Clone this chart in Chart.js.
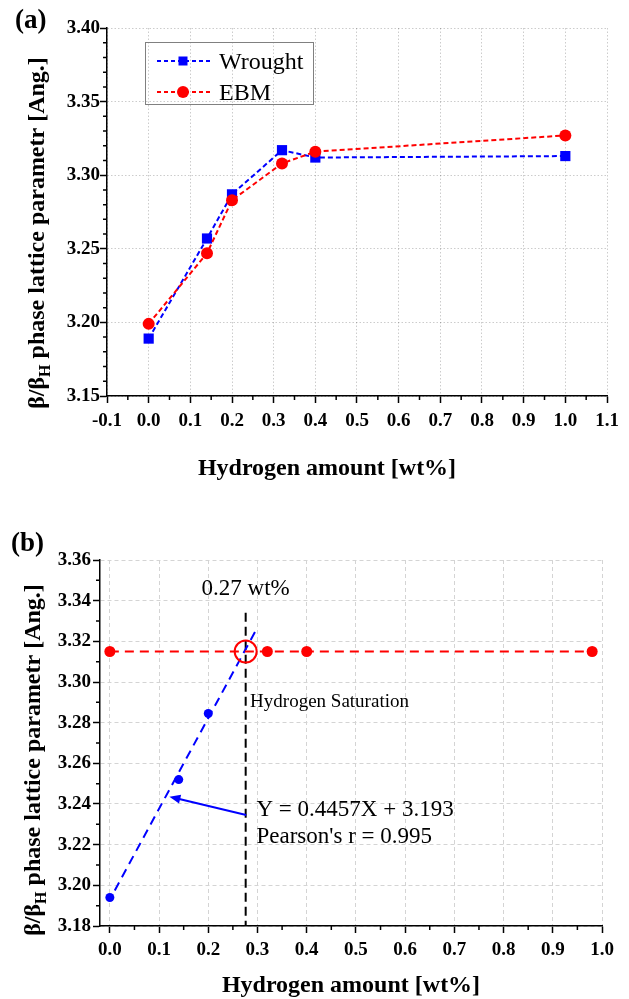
<!DOCTYPE html>
<html>
<head>
<meta charset="utf-8">
<script src="https://cdn.jsdelivr.net/npm/chart.js@4.4.1/dist/chart.umd.min.js"></script>
<style>
  html, body { margin: 0; padding: 0; background: #fff; }
  #wrap { position: relative; width: 629px; height: 999px; }
  canvas { position: absolute; left: 0; }
  #chartA { top: 0; }
  #chartB { top: 500px; }
</style>
</head>
<body>
<div id="wrap">
  <canvas id="chartA" width="629" height="500"></canvas>
  <canvas id="chartB" width="629" height="499"></canvas>
</div>
<script>
// ---- (a) lattice parameter vs hydrogen amount ----
const H_A = [0, 0.14, 0.2, 0.32, 0.4, 1.0];
const WROUGHT = [3.189, 3.257, 3.287, 3.317, 3.312, 3.313];
const EBM = [3.199, 3.247, 3.283, 3.308, 3.316, 3.327];
const X_TICKS_A = [-0.1, 0, 0.1, 0.2, 0.3, 0.4, 0.5, 0.6, 0.7, 0.8, 0.9, 1.0, 1.1];
const Y_TICKS_A = [3.15, 3.20, 3.25, 3.30, 3.35, 3.40];

// ---- (b) linear fit + saturation level ----
const H_FIT = [0, 0.14, 0.2];
const LATTICE_FIT = [3.194, 3.252, 3.2845];
const FIT_LINE_X = [0.01, 0.298];
const FIT_LINE_Y = [3.1975, 3.326];
const H_SAT = [0, 0.32, 0.4, 0.98];
const LATTICE_SAT = [3.315, 3.315, 3.315, 3.315];
const SAT_X = [0.276];
const SAT_Y = [3.315];
const SAT_MARK_X = [0.276, 0.276];
const SAT_MARK_Y = [3.334, 3.18];
const ARROW_TAIL = [0.277, 3.2346];
const ARROW_HEAD = [0.121, 3.2436];
const X_TICKS_B = [0, 0.1, 0.2, 0.3, 0.4, 0.5, 0.6, 0.7, 0.8, 0.9, 1.0];
const Y_TICKS_B = [3.18, 3.20, 3.22, 3.24, 3.26, 3.28, 3.30, 3.32, 3.34, 3.36];

const X_TITLE = 'Hydrogen amount [wt%]';
const Y_TITLE = ['β/β', 'H', ' phase lattice parametr [Ang.]'];

const SERIF = '"Liberation Serif", "Times New Roman", serif';
const BLUE = '#0000ff';
const RED = '#ff0000';

const pts = (xs, ys) => xs.map((x, i) => ({ x: x, y: ys[i] }));

function linearAxis(o) {
  return {
    type: 'linear',
    min: o.min,
    max: o.max,
    afterBuildTicks: (s) => { s.ticks = o.ticks.map((v) => ({ value: v })); },
    afterFit: (s) => {
      if (o.width) s.width = o.width;
      if (o.height) s.height = o.height;
    },
    ticks: {
      autoSkip: false,
      maxRotation: 0,
      padding: o.pad,
      color: '#000',
      font: { family: SERIF, size: 19, weight: 'bold' },
      callback: (v) => Number(v).toFixed(o.digits),
    },
    grid: { color: o.gridColor, lineWidth: 1, tickLength: 7, tickWidth: 1.5, tickColor: '#000', tickBorderDash: [] },
    border: { display: true, color: '#000', width: 1.5, dash: o.gridDash },
  };
}

// short minor ticks between the labelled ones
const minorTicks = {
  id: 'minorTicks',
  afterDraw(chart, args, opts) {
    const ctx = chart.ctx;
    ctx.save();
    ctx.strokeStyle = '#000';
    ctx.lineWidth = 1.5;
    ['x', 'y'].forEach((id) => {
      const s = chart.scales[id];
      const n = opts[id] || 0;
      const t = s.ticks.map((k) => k.value);
      ctx.beginPath();
      for (let i = 0; i < t.length - 1; i++) {
        for (let k = 1; k <= n; k++) {
          const p = s.getPixelForValue(t[i] + (t[i + 1] - t[i]) * k / (n + 1));
          if (id === 'x') { ctx.moveTo(p, s.top); ctx.lineTo(p, s.top + 4); }
          else { ctx.moveTo(s.right, p); ctx.lineTo(s.right - 4, p); }
        }
      }
      ctx.stroke();
    });
    ctx.restore();
  },
};

// panel letter, axis titles, legend box and notes
const decor = {
  id: 'decor',
  afterDraw(chart, args, o) {
    const ctx = chart.ctx;
    ctx.save();
    ctx.fillStyle = '#000';
    ctx.textBaseline = 'alphabetic';

    ctx.font = 'bold 27px ' + SERIF;
    ctx.textAlign = 'left';
    ctx.fillText(o.letter.text, o.letter.x, o.letter.y);

    ctx.font = 'bold 24px ' + SERIF;
    ctx.textAlign = 'center';
    ctx.fillText(X_TITLE, o.xTitle.x, o.xTitle.y);

    // rotated y title with subscript H
    ctx.save();
    ctx.translate(o.yTitle.x, o.yTitle.y);
    ctx.rotate(-Math.PI / 2);
    ctx.textAlign = 'left';
    const big = 'bold ' + o.yTitle.size + 'px ' + SERIF;
    const fonts = [big, 'bold 16px ' + SERIF, big];
    const shift = [0, 6, 0];
    let total = 0;
    const widths = Y_TITLE.map((s, i) => { ctx.font = fonts[i]; const w = ctx.measureText(s).width; total += w; return w; });
    let cx = -total / 2;
    Y_TITLE.forEach((s, i) => { ctx.font = fonts[i]; ctx.fillText(s, cx, shift[i]); cx += widths[i]; });
    ctx.restore();

    if (o.legend) {
      const L = o.legend;
      ctx.strokeStyle = '#808080';
      ctx.lineWidth = 1;
      ctx.strokeRect(L.x + 0.5, L.y + 0.5, L.w, L.h);
      L.items.forEach((it, i) => {
        const y = L.y + L.row0 + i * L.rowGap;
        ctx.strokeStyle = it.color;
        ctx.lineWidth = 2;
        ctx.setLineDash([4, 3]);
        ctx.beginPath();
        ctx.moveTo(L.x + 12, y);
        ctx.lineTo(L.x + 65, y);
        ctx.stroke();
        ctx.setLineDash([]);
        ctx.fillStyle = it.color;
        if (it.square) ctx.fillRect(L.x + 38 - 4.5, y - 4.5, 9, 9);
        else { ctx.beginPath(); ctx.arc(L.x + 38, y, 6, 0, Math.PI * 2); ctx.fill(); }
        ctx.fillStyle = '#000';
        ctx.font = '24px ' + SERIF;
        ctx.textAlign = 'left';
        ctx.fillText(it.text, L.x + 74, y + 8);
      });
    }

    if (o.notes) {
      const xs = chart.scales.x, ys = chart.scales.y;
      o.notes.forEach((n) => {
        ctx.font = n.size + 'px ' + SERIF;
        ctx.textAlign = n.align;
        ctx.fillStyle = '#000';
        ctx.fillText(n.text, xs.getPixelForValue(n.x), ys.getPixelForValue(n.y));
      });
    }

    if (o.arrow) {
      const xs = chart.scales.x, ys = chart.scales.y;
      const tx = xs.getPixelForValue(ARROW_TAIL[0]), ty = ys.getPixelForValue(ARROW_TAIL[1]);
      const hx = xs.getPixelForValue(ARROW_HEAD[0]), hy = ys.getPixelForValue(ARROW_HEAD[1]);
      const a = Math.atan2(hy - ty, hx - tx);
      ctx.strokeStyle = BLUE;
      ctx.fillStyle = BLUE;
      ctx.lineWidth = 2;
      ctx.beginPath();
      ctx.moveTo(tx, ty);
      ctx.lineTo(hx - 8 * Math.cos(a), hy - 8 * Math.sin(a));
      ctx.stroke();
      ctx.beginPath();
      ctx.moveTo(hx, hy);
      ctx.lineTo(hx - 11 * Math.cos(a) + 4.5 * Math.sin(a), hy - 11 * Math.sin(a) - 4.5 * Math.cos(a));
      ctx.lineTo(hx - 11 * Math.cos(a) - 4.5 * Math.sin(a), hy - 11 * Math.sin(a) + 4.5 * Math.cos(a));
      ctx.closePath();
      ctx.fill();
    }
    ctx.restore();
  },
};

const common = {
  responsive: false,
  animation: false,
  events: [],
  plugins: { legend: { display: false }, tooltip: { enabled: false } },
};

new Chart(document.getElementById('chartA'), {
  type: 'scatter',
  data: {
    datasets: [
      {
        label: 'EBM', order: 0, data: pts(H_A, EBM), showLine: true,
        borderColor: RED, backgroundColor: RED, borderWidth: 2, borderDash: [5, 3],
        pointStyle: 'circle', pointRadius: 6, pointBorderWidth: 0,
      },
      {
        label: 'Wrought', order: 1, data: pts(H_A, WROUGHT), showLine: true,
        borderColor: BLUE, backgroundColor: BLUE, borderWidth: 2, borderDash: [5, 3],
        pointStyle: 'rect', pointRadius: 7.2, pointBorderWidth: 0,
      },
    ],
  },
  options: Object.assign({}, common, {
    layout: { padding: { top: 28, right: 22, left: 0, bottom: 0 } },
    scales: {
      x: linearAxis({ min: -0.1, max: 1.1, ticks: X_TICKS_A, digits: 1, pad: 7, height: 104, gridColor: 'rgba(0,0,0,0.2)', gridDash: [1.5, 2] }),
      y: linearAxis({ min: 3.15, max: 3.40, ticks: Y_TICKS_A, digits: 2, pad: 0, width: 107, gridColor: 'rgba(0,0,0,0.2)', gridDash: [1.5, 2] }),
    },
    plugins: Object.assign({}, common.plugins, {
      minorTicks: { x: 1, y: 4 },
      decor: {
        letter: { text: '(a)', x: 15, y: 28 },
        xTitle: { x: 327, y: 475 },
        yTitle: { x: 44, y: 233, size: 24 },
        legend: {
          x: 145, y: 42, w: 168, h: 62, row0: 19, rowGap: 31,
          items: [
            { text: 'Wrought', color: BLUE, square: true },
            { text: 'EBM', color: RED, square: false },
          ],
        },
      },
    }),
  }),
  plugins: [minorTicks, decor],
});

new Chart(document.getElementById('chartB'), {
  type: 'scatter',
  data: {
    datasets: [
      {
        label: 'saturation circle', order: 0, data: pts(SAT_X, SAT_Y), showLine: false,
        pointRadius: 11, pointBorderWidth: 2, pointBorderColor: RED, pointBackgroundColor: 'rgba(0,0,0,0)',
      },
      {
        label: 'saturation', order: 1, data: pts(H_SAT, LATTICE_SAT), showLine: true,
        borderColor: RED, backgroundColor: RED, borderWidth: 2, borderDash: [9, 6],
        pointRadius: 5.5, pointBorderWidth: 0,
      },
      {
        label: 'measured', order: 2, data: pts(H_FIT, LATTICE_FIT), showLine: false,
        backgroundColor: BLUE, borderColor: BLUE, pointRadius: 4.5, pointBorderWidth: 0,
      },
      {
        label: 'fit', order: 3, data: pts(FIT_LINE_X, FIT_LINE_Y), showLine: true,
        borderColor: BLUE, borderWidth: 2, borderDash: [9, 6], pointRadius: 0,
      },
      {
        label: '0.27 wt%', order: 4, data: pts(SAT_MARK_X, SAT_MARK_Y), showLine: true,
        borderColor: '#000', borderWidth: 2, borderDash: [9, 5], pointRadius: 0,
      },
    ],
  },
  options: Object.assign({}, common, {
    layout: { padding: { top: 60, right: 27, left: 0, bottom: 0 } },
    scales: {
      x: linearAxis({ min: -0.02, max: 1.0, ticks: X_TICKS_B, digits: 1, pad: 6, height: 73, gridColor: '#d4d4d4', gridDash: [4, 3] }),
      y: linearAxis({ min: 3.18, max: 3.36, ticks: Y_TICKS_B, digits: 2, pad: 2, width: 100, gridColor: '#d4d4d4', gridDash: [4, 3] }),
    },
    plugins: Object.assign({}, common.plugins, {
      minorTicks: { x: 1, y: 1 },
      decor: {
        letter: { text: '(b)', x: 11, y: 51 },
        xTitle: { x: 351, y: 492 },
        yTitle: { x: 40, y: 260, size: 24 },
        notes: [
          { text: '0.27 wt%', x: 0.276, y: 3.3428, size: 23, align: 'center' },
          { text: 'Hydrogen Saturation', x: 0.285, y: 3.2879, size: 19, align: 'left' },
          { text: 'Y = 0.4457X + 3.193', x: 0.298, y: 3.2341, size: 23, align: 'left' },
          { text: "Pearson's r = 0.995", x: 0.298, y: 3.2207, size: 23, align: 'left' },
        ],
        arrow: true,
      },
    }),
  }),
  plugins: [minorTicks, decor],
});
</script>
</body>
</html>
